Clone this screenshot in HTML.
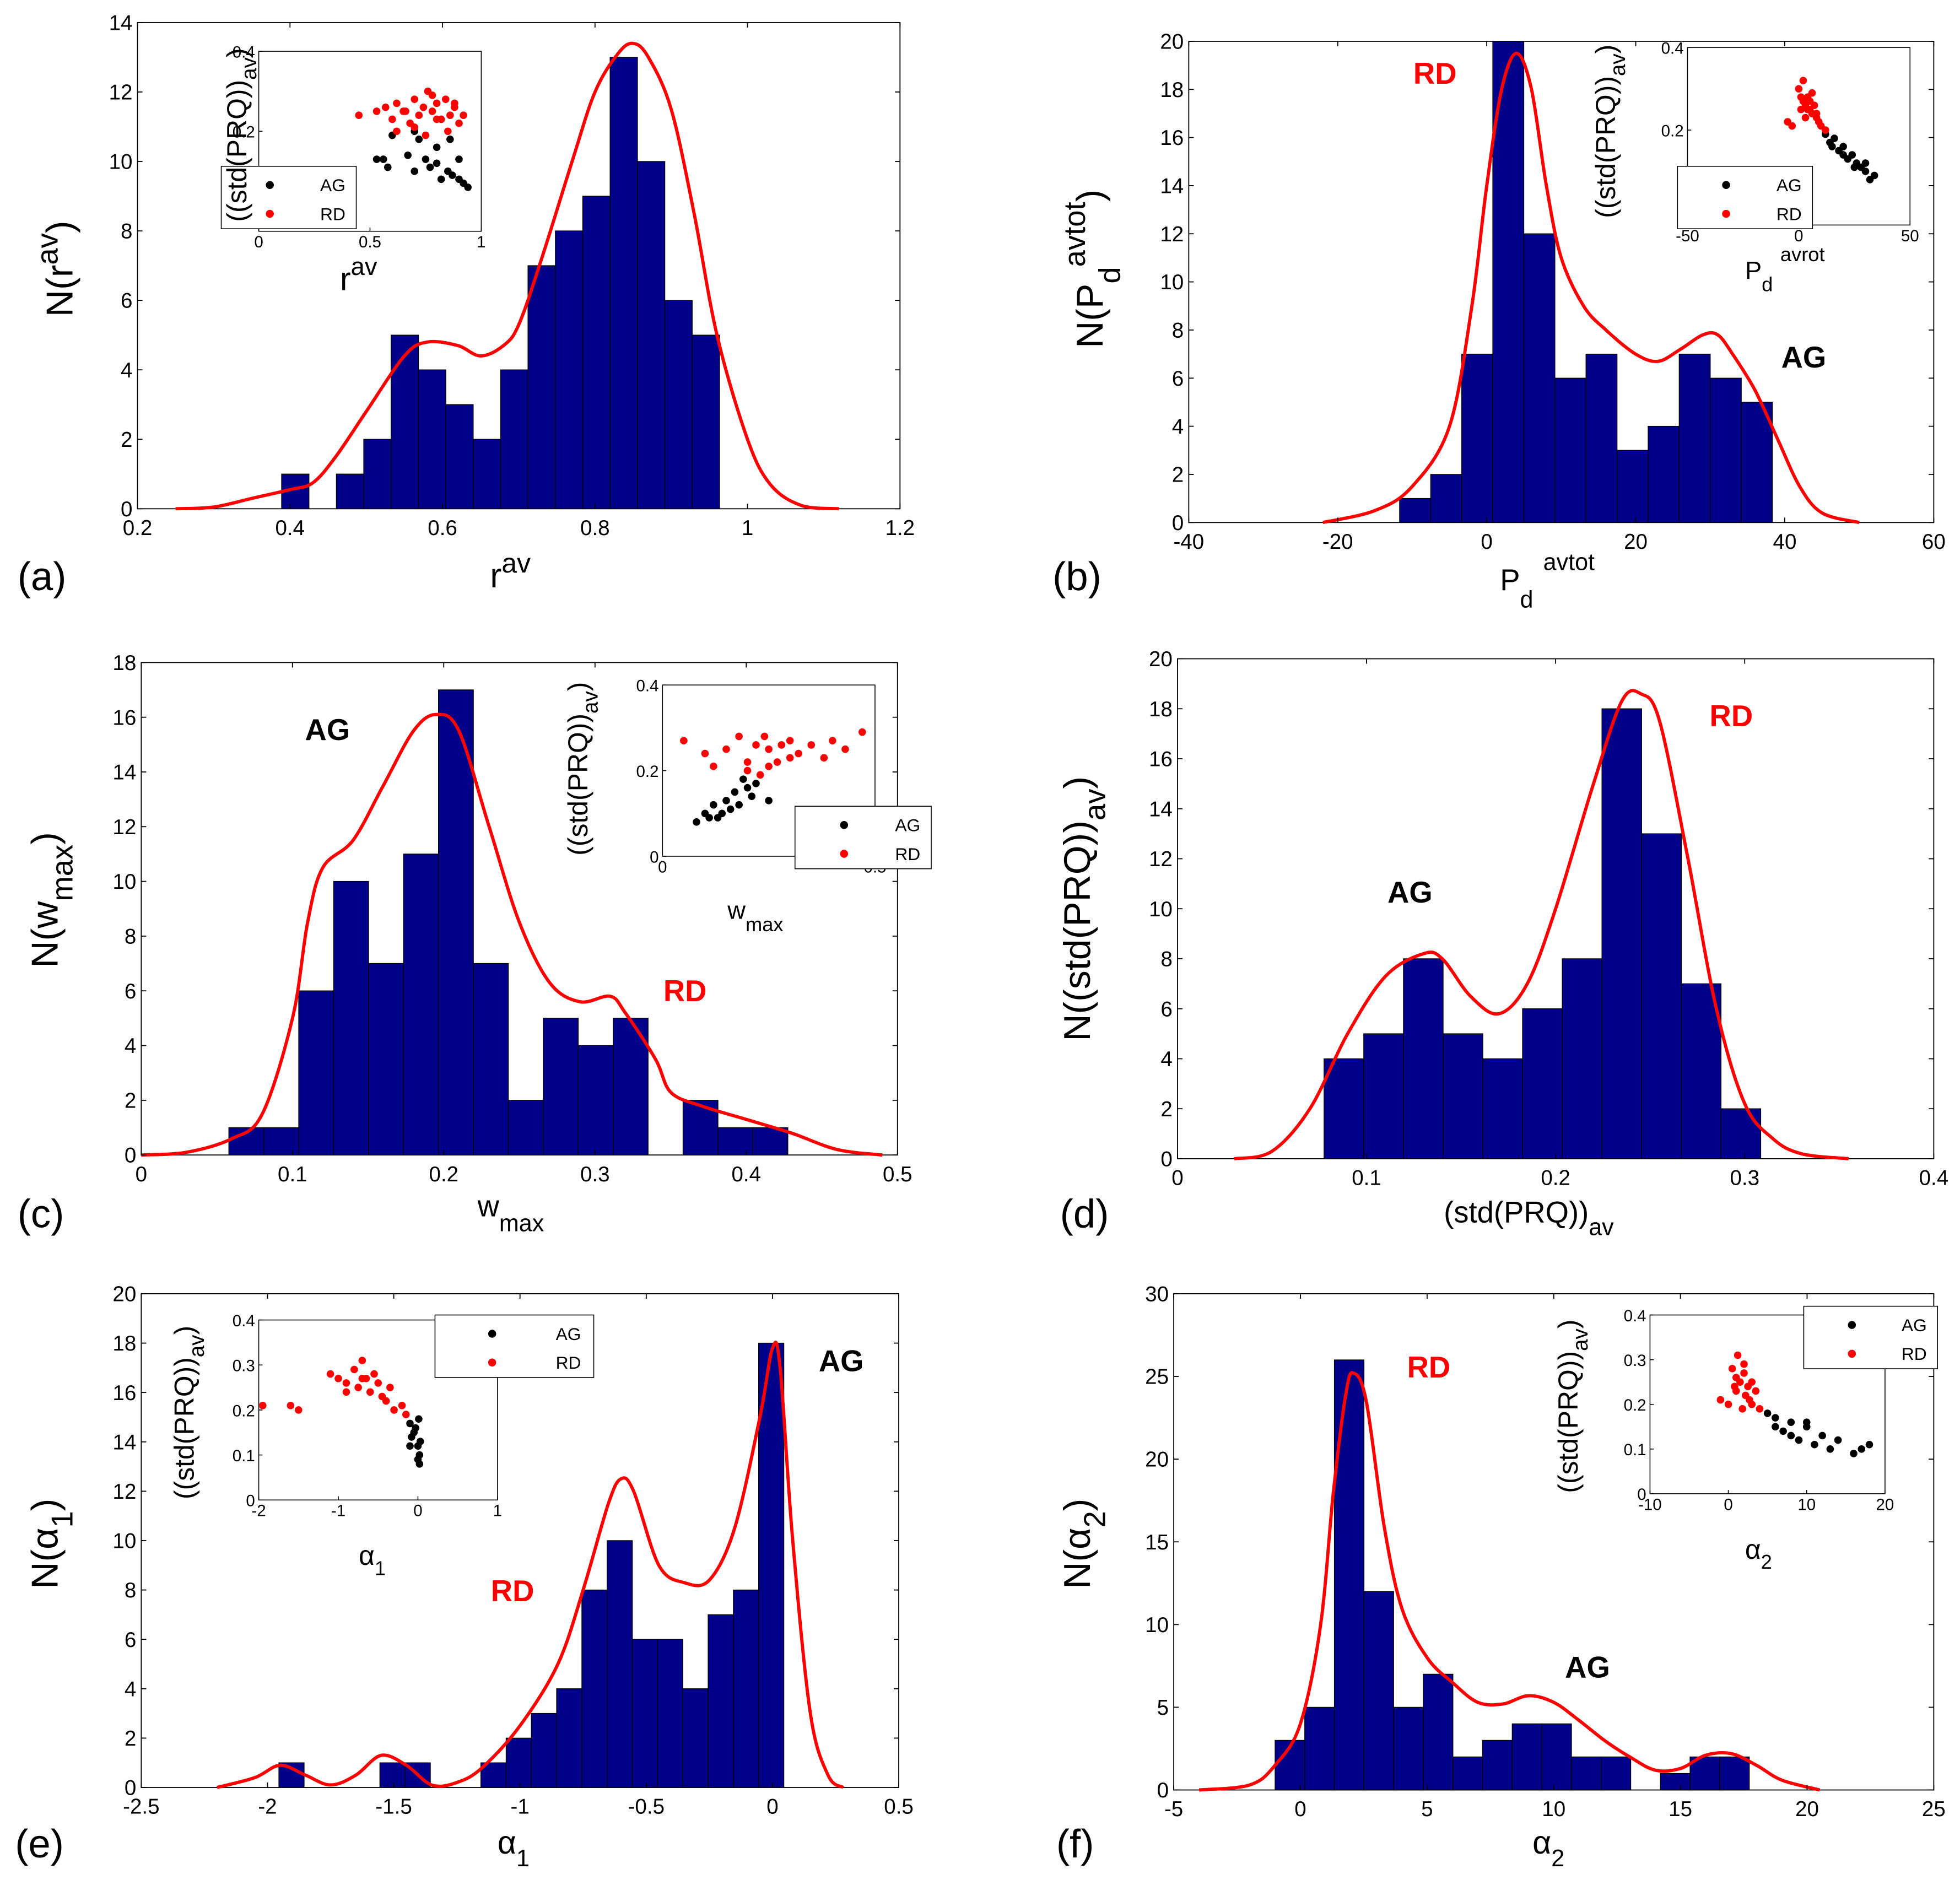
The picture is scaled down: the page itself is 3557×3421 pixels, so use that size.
<!DOCTYPE html>
<html><head><meta charset="utf-8"><style>
html,body{margin:0;padding:0;background:#fff}
svg{display:block}
text{font-family:"Liberation Sans",Arial,sans-serif}
</style></head><body>
<svg id="fig" xmlns="http://www.w3.org/2000/svg" width="3557" height="3421" viewBox="0 0 1568 1508">
<rect x="0" y="0" width="1568" height="1508" fill="#fff"/>
</svg>
<script>
// ---------- data ----------
const aCounts=[1,0,1,2,5,4,3,2,4,7,8,9,13,10,6,5];
const aCurveX=[0.25,0.3,0.35,0.4,0.43,0.46,0.5,0.55,0.58,0.62,0.65,0.68,0.7,0.73,0.77,0.8,0.83,0.85,0.87,0.9,0.93,0.96,1.0,1.03,1.07,1.12];
const aCurveY=[0,0.05,0.3,0.55,0.75,1.5,2.8,4.4,4.8,4.7,4.4,4.7,5.3,7.2,10,12,13.1,13.4,13,11.5,8.5,5,2,0.7,0.1,0];
const aRedX=[0.45,0.53,0.57,0.6,0.62,0.65,0.68,0.7,0.72,0.74,0.76,0.78,0.8,0.82,0.84,0.86,0.88,0.9,0.62,0.7,0.78,0.85,0.75,0.66,0.8,0.88,0.92];
const aRedY=[0.24,0.25,0.26,0.23,0.27,0.25,0.22,0.28,0.24,0.26,0.3,0.25,0.27,0.23,0.28,0.24,0.26,0.22,0.2,0.21,0.29,0.2,0.19,0.25,0.23,0.27,0.24];
const aBlackX=[0.53,0.56,0.58,0.67,0.7,0.72,0.75,0.77,0.8,0.82,0.85,0.87,0.9,0.92,0.94,0.8,0.86,0.7,0.9,0.6];
const aBlackY=[0.13,0.13,0.11,0.14,0.1,0.18,0.13,0.11,0.12,0.08,0.1,0.09,0.08,0.07,0.06,0.16,0.18,0.2,0.13,0.19];

const bCounts=[1,2,7,20,12,6,7,3,4,7,6,5];
const bCurveX=[-22,-15,-10,-5,-2,0,2,4,6,8,10,13,16,20,23,26,29,31,33,36,39,42,45,50];
const bCurveY=[0,0.5,1.5,4,9,14,18,19.5,18,14,11,9,8,7,6.7,7.2,7.8,7.8,7,5.5,3.5,1.5,0.4,0];
const bRedX=[-5,-3,0,1,2,3,4,5,6,7,8,9,10,2,4,6,1,3,12,5,8];
const bRedY=[0.22,0.21,0.3,0.28,0.27,0.26,0.28,0.25,0.24,0.26,0.23,0.22,0.21,0.32,0.25,0.29,0.25,0.23,0.2,0.27,0.24];
const bBlackX=[12,14,16,18,20,22,24,26,28,30,32,34,20,25,30,15];
const bBlackY=[0.19,0.17,0.18,0.15,0.16,0.13,0.14,0.12,0.11,0.1,0.08,0.09,0.14,0.11,0.12,0.16];

const cCounts=[1,1,6,10,7,11,17,7,2,5,4,5,0,2,1,1];
const cCurveX=[0,0.03,0.06,0.08,0.1,0.11,0.12,0.14,0.16,0.18,0.195,0.21,0.23,0.25,0.27,0.29,0.31,0.32,0.34,0.35,0.37,0.4,0.43,0.46,0.49];
const cCurveY=[0,0.1,0.6,1.5,5,8.5,10.5,11.5,13.5,15.5,16.1,15.5,12,8.5,6.3,5.6,5.8,5.2,3.5,2.3,1.8,1.3,0.8,0.2,0];
const cRedX=[0.05,0.1,0.15,0.18,0.2,0.22,0.24,0.25,0.27,0.3,0.32,0.35,0.38,0.4,0.43,0.47,0.2,0.25,0.3,0.23,0.28,0.12];
const cRedY=[0.27,0.24,0.25,0.28,0.22,0.26,0.28,0.25,0.22,0.27,0.24,0.26,0.23,0.27,0.25,0.29,0.2,0.21,0.23,0.19,0.26,0.21];
const cBlackX=[0.08,0.1,0.12,0.13,0.15,0.16,0.17,0.18,0.2,0.21,0.22,0.14,0.19,0.25,0.11];
const cBlackY=[0.08,0.1,0.12,0.09,0.13,0.11,0.15,0.12,0.16,0.14,0.17,0.1,0.18,0.13,0.09];

const dCounts=[4,5,8,5,4,6,8,18,13,7,2];
const dCurveX=[0.03,0.05,0.07,0.09,0.11,0.13,0.14,0.155,0.17,0.185,0.2,0.22,0.235,0.245,0.255,0.27,0.285,0.3,0.315,0.33,0.355];
const dCurveY=[0,0.3,2,5,7.3,8.2,8,6.5,5.8,7,10,15,18.3,18.6,17.5,12,6,2.2,0.8,0.2,0];

const eCounts=[1,0,0,0,1,1,0,0,1,2,3,4,8,10,6,6,4,7,8,18];
const eCurveX=[-2.2,-2.05,-1.95,-1.85,-1.75,-1.65,-1.55,-1.45,-1.35,-1.25,-1.15,-1.0,-0.85,-0.75,-0.65,-0.6,-0.55,-0.45,-0.35,-0.25,-0.15,-0.05,0,0.03,0.08,0.15,0.22,0.28];
const eCurveY=[0,0.4,0.9,0.5,0.1,0.5,1.3,0.9,0.1,0.2,0.8,2.5,5,8,11.5,12.5,12,9,8.3,8.4,10.5,15,17.8,17,10,3,0.5,0];
const eRedX=[-1.95,-1.6,-1.5,-1.1,-1.0,-0.9,-0.8,-0.75,-0.7,-0.65,-0.6,-0.5,-0.45,-0.4,-0.35,-0.3,-0.2,-0.15,-0.9,-0.7,-0.55];
const eRedY=[0.21,0.21,0.2,0.28,0.27,0.26,0.29,0.25,0.31,0.27,0.24,0.26,0.23,0.22,0.25,0.2,0.21,0.19,0.24,0.27,0.28];
const eBlackX=[-0.1,-0.05,0,0.02,-0.08,0,0.03,-0.03,0.01,-0.1,0.02];
const eBlackY=[0.17,0.15,0.12,0.1,0.14,0.09,0.13,0.16,0.18,0.12,0.08];

const fCounts=[3,5,26,12,5,7,2,3,4,4,2,2,0,1,2,2];
const fCurveX=[-4,-2,-1,0,0.8,1.3,1.8,2.1,2.6,3.3,4,5,6,7,8,9,10,11,12,13,14,15,16,17,18,19,20.5];
const fCurveY=[0,0.3,1.5,4,10,18,24,25.2,23.5,16,11,8,6.5,5.3,5.2,5.7,5.3,4.2,3,2,1.2,1.3,2.1,2.2,1.5,0.6,0];
const fRedX=[-1,0,0.5,1,1.2,1.5,2,2.2,2.5,3,3.5,4,1,2,3,1.8,0.8,2.7];
const fRedY=[0.21,0.2,0.28,0.26,0.31,0.25,0.27,0.22,0.24,0.2,0.23,0.19,0.23,0.29,0.25,0.19,0.24,0.21];
const fBlackX=[5,6,7,8,9,10,11,12,13,14,16,17,18,8,10,6];
const fBlackY=[0.18,0.15,0.14,0.16,0.12,0.15,0.11,0.13,0.1,0.12,0.09,0.1,0.11,0.13,0.16,0.17];

// ---------- drawing ----------
const NS="http://www.w3.org/2000/svg";
const svg=document.getElementById('fig');
function mk(tag,attrs,parent){const e=document.createElementNS(NS,tag);for(const k in attrs)e.setAttribute(k,attrs[k]);(parent||svg).appendChild(e);return e;}
function txt(s,x,y,size,anchor,parent,color,weight){const t=mk('text',{x:x,y:y,'font-size':size,'text-anchor':anchor||'middle',fill:color||'#000','font-weight':weight||'normal'},parent);t.textContent=s;return t;}
function smooth(p){
  let d='M'+p[0][0].toFixed(1)+','+p[0][1].toFixed(1);
  for(let i=0;i<p.length-1;i++){
    const p0=p[i-1]||p[i],p1=p[i],p2=p[i+1],p3=p[i+2]||p2;
    const c1=[p1[0]+(p2[0]-p0[0])/6,p1[1]+(p2[1]-p0[1])/6];
    const c2=[p2[0]-(p3[0]-p1[0])/6,p2[1]-(p3[1]-p1[1])/6];
    d+=' C'+c1[0].toFixed(1)+','+c1[1].toFixed(1)+' '+c2[0].toFixed(1)+','+c2[1].toFixed(1)+' '+p2[0].toFixed(1)+','+p2[1].toFixed(1);
  }
  return d;
}

function panel(id,P,counts,binStart,binW,cx,cy,xticks,yticks){
  const g=mk('g',{});
  
  
  const X=v=>P.x0+(v-P.xmin)/(P.xmax-P.xmin)*(P.x1-P.x0);
  const Y=v=>P.y0-(v-P.ymin)/(P.ymax-P.ymin)*(P.y0-P.y1);
  const fr=mk('rect',{x:P.x0,y:P.y1,width:P.x1-P.x0,height:P.y0-P.y1,fill:'none',stroke:'#000','stroke-width':0.8},g);
  
  
  counts.forEach((c,i)=>{ if(c<=0) return;
    const l=X(binStart+i*binW), r=X(binStart+(i+1)*binW);
    const b=mk('rect',{x:l,y:Y(c),width:r-l,height:Y(0)-Y(c),fill:'#000088',stroke:'#000','stroke-width':0.6},g);
    
    
  });
  const pts=cx.map((v,i)=>[X(v),Y(cy[i])]);
  const pl=mk('path',{d:smooth(pts),fill:'none',stroke:'#ff0000','stroke-width':2.6,'stroke-linejoin':'round'},g);
  
  
  xticks.forEach(t=>{const x=X(t);
    mk('line',{x1:x,y1:P.y0,x2:x,y2:P.y0-4,stroke:'#000','stroke-width':0.8},g);
    mk('line',{x1:x,y1:P.y1,x2:x,y2:P.y1+4,stroke:'#000','stroke-width':0.8},g);
    const t1=txt(String(t),x,P.y0+21,17,'middle',g);
    
    
  });
  yticks.forEach(t=>{const y=Y(t);
    mk('line',{x1:P.x0,y1:y,x2:P.x0+4,y2:y,stroke:'#000','stroke-width':0.8},g);
    mk('line',{x1:P.x1,y1:y,x2:P.x1-4,y2:y,stroke:'#000','stroke-width':0.8},g);
    const t2=txt(String(t),P.x0-4,y+6,17,'end',g);
    
    
  });
  return g;
}

function inset(id,P,rx,ry,bx,by,xticks,xlabels,yticks,legend){
  const g=mk('g',{});
  
  
  const X=v=>P.x0+(v-P.xmin)/(P.xmax-P.xmin)*(P.x1-P.x0);
  const Y=v=>P.y0-(v-P.ymin)/(P.ymax-P.ymin)*(P.y0-P.y1);
  mk('rect',{x:P.x0,y:P.y1,width:P.x1-P.x0,height:P.y0-P.y1,fill:'#fff',stroke:'#000','stroke-width':0.7},g);
  xticks.forEach((t,i)=>{const x=X(t);
    mk('line',{x1:x,y1:P.y0,x2:x,y2:P.y0-3,stroke:'#000','stroke-width':0.7},g);
    const tl=txt(xlabels[i],x,P.y0+13,13,'middle',g);
    
    
  });
  yticks.forEach(t=>{const y=Y(t);
    mk('line',{x1:P.x0,y1:y,x2:P.x0+3,y2:y,stroke:'#000','stroke-width':0.7},g);
    const tl=txt(String(t),P.x0-3,y+5,13,'end',g);
    
    
  });
  bx.forEach((v,i)=>{const c=mk('circle',{cx:X(v),cy:Y(by[i]),r:3,fill:'#000'},g);
    
    });
  rx.forEach((v,i)=>{const c=mk('circle',{cx:X(v),cy:Y(ry[i]),r:3,fill:'#ff0000'},g);
    
    });
  const lg=mk('g',{},g);
  
  
  mk('rect',{x:legend[0],y:legend[1],width:legend[2],height:50,fill:'#fff',stroke:'#000','stroke-width':0.7},lg);
  const dx=legend[0]+legend[2]*0.36, tx=legend[0]+legend[2]*0.92;
  mk('circle',{cx:dx,cy:legend[1]+15,r:3.2,fill:'#000'},lg);
  mk('circle',{cx:dx,cy:legend[1]+38,r:3.2,fill:'#ff0000'},lg);
  const l1=txt('AG',tx,legend[1]+20,14,'end',lg);
  
  
  const l2=txt('RD',tx,legend[1]+43,14,'end',lg);
  
  
}

function range(a,b,s){const r=[];for(let v=a;v<=b+1e-9;v+=s)r.push(+v.toFixed(4));return r;}

panel('a',{x0:110,x1:720,y0:407,y1:18,xmin:0.2,xmax:1.2,ymin:0,ymax:14},aCounts,0.389,0.0359,aCurveX,aCurveY,[0.2,0.4,0.6,0.8,1,1.2],range(0,14,2));
panel('b',{x0:951,x1:1547,y0:418,y1:33,xmin:-40,xmax:60,ymin:0,ymax:20},bCounts,-11.7,4.17,bCurveX,bCurveY,[-40,-20,0,20,40,60],range(0,20,2));
panel('c',{x0:113,x1:718,y0:924,y1:530,xmin:0,xmax:0.5,ymin:0,ymax:18},cCounts,0.0579,0.0231,cCurveX,cCurveY,[0,0.1,0.2,0.3,0.4,0.5],range(0,18,2));
panel('d',{x0:942,x1:1547,y0:927,y1:527,xmin:0,xmax:0.4,ymin:0,ymax:20},dCounts,0.0775,0.021,dCurveX,dCurveY,[0,0.1,0.2,0.3,0.4],range(0,20,2));
panel('e',{x0:113,x1:719,y0:1430,y1:1035,xmin:-2.5,xmax:0.5,ymin:0,ymax:20},eCounts,-1.955,0.1,eCurveX,eCurveY,[-2.5,-2,-1.5,-1,-0.5,0,0.5],range(0,20,2));
panel('f',{x0:939,x1:1547,y0:1432,y1:1035,xmin:-5,xmax:25,ymin:0,ymax:30},fCounts,-1.0,1.17,fCurveX,fCurveY,[-5,0,5,10,15,20,25],range(0,30,5));

inset('a',{x0:207,x1:385,y0:185,y1:41,xmin:0,xmax:1,ymin:-0.05,ymax:0.4},aRedX,aRedY,aBlackX,aBlackY,[0,0.5,1],['0','0.5','1'],[0.2,0.4],[177,133,108]);
inset('b',{x0:1350,x1:1528,y0:180,y1:38,xmin:-50,xmax:50,ymin:-0.03,ymax:0.4},bRedX,bRedY,bBlackX,bBlackY,[-50,0,50],['-50','0','50'],[0.2,0.4],[1342,133,108]);
inset('c',{x0:530,x1:700,y0:685,y1:548,xmin:0,xmax:0.5,ymin:0,ymax:0.4},cRedX,cRedY,cBlackX,cBlackY,[0,0.5],['0','0.5'],[0,0.2,0.4],[636,645,109]);
inset('e',{x0:207,x1:398,y0:1200,y1:1056,xmin:-2,xmax:1,ymin:0,ymax:0.4},eRedX,eRedY,eBlackX,eBlackY,[-2,-1,0,1],['-2','-1','0','1'],[0,0.1,0.2,0.3,0.4],[348,1052,127]);
inset('f',{x0:1320,x1:1508,y0:1195,y1:1052,xmin:-10,xmax:20,ymin:0,ymax:0.4},fRedX,fRedY,fBlackX,fBlackY,[-10,0,10,20],['-10','0','10','20'],[0,0.1,0.2,0.3,0.4],[1443,1045,107]);
</script>
<svg style="position:absolute;left:0;top:0" width="3557" height="3421" viewBox="0 0 1568 1508" xmlns="http://www.w3.org/2000/svg">
<g font-family="Liberation Sans, Arial, sans-serif">
<text x="14" y="472" font-size="32">(a)</text>
<text x="842" y="472" font-size="32">(b)</text>
<text x="14" y="982" font-size="32">(c)</text>
<text x="848" y="982" font-size="32">(d)</text>
<text x="12" y="1486" font-size="32">(e)</text>
<text x="845" y="1486" font-size="32">(f)</text>
<text x="392" y="470" font-size="28">r<tspan dy="-12" font-size="22">av</tspan></text>
<text x="1200" y="472" font-size="24">P<tspan dy="14" font-size="19">d</tspan><tspan dx="8" dy="-30" font-size="19">avtot</tspan></text>
<text x="382" y="973" font-size="24">w<tspan dy="12" font-size="19">max</tspan></text>
<text x="1155" y="978" font-size="24">(std(PRQ))<tspan dy="10" font-size="19">av</tspan></text>
<text x="398" y="1483" font-size="26">α<tspan dy="10" font-size="19">1</tspan></text>
<text x="1226" y="1483" font-size="26">α<tspan dy="10" font-size="19">2</tspan></text>
<text transform="translate(58,215) rotate(-90)" text-anchor="middle" font-size="30">N(r<tspan dy="-12" font-size="24">av</tspan><tspan dy="12">)</tspan></text>
<text transform="translate(882,215) rotate(-90)" text-anchor="middle" font-size="30">N(P<tspan dy="14" font-size="24">d</tspan><tspan dy="-28" font-size="24">avtot</tspan><tspan dy="14">)</tspan></text>
<text transform="translate(46,720) rotate(-90)" text-anchor="middle" font-size="30">N(w<tspan dy="12" font-size="24">max</tspan><tspan dy="-12">)</tspan></text>
<text transform="translate(872,727) rotate(-90)" text-anchor="middle" font-size="30">N((std(PRQ))<tspan dy="12" font-size="24">av</tspan><tspan dy="-12">)</tspan></text>
<text transform="translate(46,1235) rotate(-90)" text-anchor="middle" font-size="30">N(α<tspan dy="12" font-size="24">1</tspan><tspan dy="-12">)</tspan></text>
<text transform="translate(872,1235) rotate(-90)" text-anchor="middle" font-size="30">N(α<tspan dy="12" font-size="24">2</tspan><tspan dy="-12">)</tspan></text>
<text transform="translate(197,108) rotate(-90)" text-anchor="middle" font-size="22">((std(PRQ))<tspan dy="8" font-size="17">av</tspan><tspan dy="-8">)</tspan></text>
<text transform="translate(1292,105) rotate(-90)" text-anchor="middle" font-size="22">((std(PRQ))<tspan dy="8" font-size="17">av</tspan><tspan dy="-8">)</tspan></text>
<text transform="translate(470,615) rotate(-90)" text-anchor="middle" font-size="22">((std(PRQ))<tspan dy="8" font-size="17">av</tspan><tspan dy="-8">)</tspan></text>
<text transform="translate(155,1130) rotate(-90)" text-anchor="middle" font-size="22">((std(PRQ))<tspan dy="8" font-size="17">av</tspan><tspan dy="-8">)</tspan></text>
<text transform="translate(1262,1125) rotate(-90)" text-anchor="middle" font-size="22">((std(PRQ))<tspan dy="8" font-size="17">av</tspan><tspan dy="-8">)</tspan></text>
<text x="272" y="232" font-size="26">r<tspan dy="-12" font-size="20">av</tspan></text>
<text x="1396" y="223" font-size="20">P<tspan dy="10" font-size="16">d</tspan><tspan dx="6" dy="-24" font-size="16">avrot</tspan></text>
<text x="582" y="735" font-size="20">w<tspan dy="10" font-size="16">max</tspan></text>
<text x="287" y="1252" font-size="22">α<tspan dy="8" font-size="16">1</tspan></text>
<text x="1396" y="1247" font-size="22">α<tspan dy="8" font-size="16">2</tspan></text>
<g font-weight="bold" font-size="24">
<text x="1148" y="67" text-anchor="middle" fill="#ff0000">RD</text>
<text x="1443" y="294" text-anchor="middle" fill="#000">AG</text>
<text x="262" y="592" text-anchor="middle" fill="#000">AG</text>
<text x="548" y="801" text-anchor="middle" fill="#ff0000">RD</text>
<text x="1128" y="722" text-anchor="middle" fill="#000">AG</text>
<text x="1385" y="581" text-anchor="middle" fill="#ff0000">RD</text>
<text x="673" y="1097" text-anchor="middle" fill="#000">AG</text>
<text x="410" y="1281" text-anchor="middle" fill="#ff0000">RD</text>
<text x="1143" y="1102" text-anchor="middle" fill="#ff0000">RD</text>
<text x="1270" y="1342" text-anchor="middle" fill="#000">AG</text>
</g>
</g>
</svg>
</body></html>
